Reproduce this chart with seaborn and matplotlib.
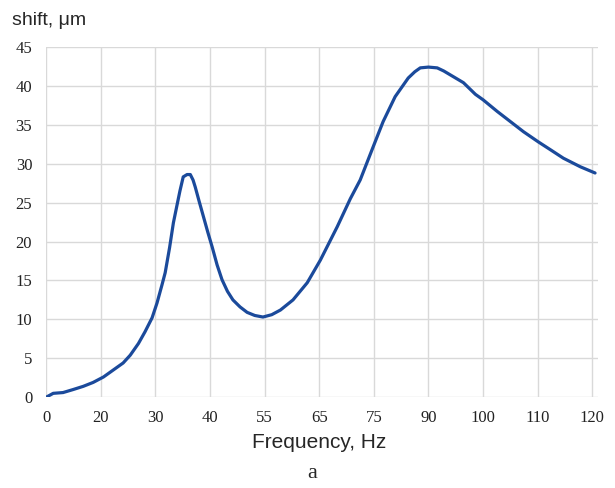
import matplotlib
matplotlib.use("Agg")
import matplotlib.pyplot as plt
import seaborn as sns
import pandas as pd

# category axis labels (evenly spaced in the original chart)
freq_labels = ["0", "20", "30", "40", "55", "65", "75", "90", "100", "110", "120"]

# curve: position along the category axis, shift in um
pos = [0.0, 0.13, 0.31, 0.5, 0.68, 0.86, 1.05, 1.23, 1.41, 1.54, 1.69, 1.81,
       1.94, 2.03, 2.12, 2.18, 2.26, 2.33, 2.40, 2.45, 2.51, 2.58, 2.64, 2.69,
       2.73, 2.80, 2.88, 2.96, 3.04, 3.13, 3.22, 3.32, 3.42, 3.55, 3.68, 3.82,
       3.97, 4.13, 4.29, 4.52, 4.78, 5.02, 5.33, 5.57, 5.75, 5.99,
       6.17, 6.39, 6.52, 6.63, 6.75, 6.85, 7.0, 7.16, 7.28, 7.40, 7.64, 7.86,
       8.0, 8.26, 8.50, 8.74, 9.01, 9.23, 9.47, 9.78, 10.05]
shift = [0.0, 0.5, 0.6, 1.0, 1.4, 1.9, 2.6, 3.5, 4.4, 5.4, 6.9, 8.4,
         10.2, 12.1, 14.4, 16.0, 19.2, 22.4, 24.8, 26.5, 28.3, 28.6, 28.6, 27.9,
         27.0, 25.2, 23.2, 21.2, 19.3, 17.0, 15.1, 13.6, 12.5, 11.6, 10.9, 10.5,
         10.3, 10.6, 11.2, 12.5, 14.7, 17.6, 21.9, 25.5, 27.9, 32.2,
         35.4, 38.6, 39.9, 41.0, 41.8, 42.3, 42.4, 42.3, 41.9, 41.4, 40.4, 38.9,
         38.2, 36.7, 35.4, 34.1, 32.8, 31.8, 30.7, 29.6, 28.8]

df = pd.DataFrame({"pos": pos, "shift": shift})

sns.set_style("white")
fig = plt.figure(figsize=(6.15, 4.88), dpi=100)
ax = fig.add_axes([0.075, 0.186, 0.897, 0.718])

sns.lineplot(data=df, x="pos", y="shift", ax=ax, color="#1b4a9b", linewidth=2.3)

ax.set_xlim(0, 10.1)
ax.set_ylim(0, 45)
ax.set_xticks(range(len(freq_labels)))
ax.set_xticklabels(freq_labels)
ax.set_yticks(range(0, 46, 5))
ax.grid(True, color="#d9d9d9", linewidth=1.0)
ax.set_axisbelow(True)
for s in ax.spines.values():
    s.set_visible(False)
ax.tick_params(length=0, labelsize=12, colors="#222222")
ax.tick_params(axis="x", pad=9)
ax.tick_params(axis="y", pad=10)
for lab in ax.get_xticklabels() + ax.get_yticklabels():
    lab.set_family("Liberation Serif")

ax.set_xlabel("")
ax.set_ylabel("")
fig.text(0.02, 0.958, "shift, μm", fontsize=14, family="Liberation Sans", va="center")
fig.text(0.519, 0.093, "Frequency, Hz", fontsize=15, family="Liberation Sans",
         ha="center", va="center")
fig.text(0.507, 0.03, "a", fontsize=16, family="Liberation Serif",
         ha="center", va="center")

fig.savefig("out.png", dpi=100)
